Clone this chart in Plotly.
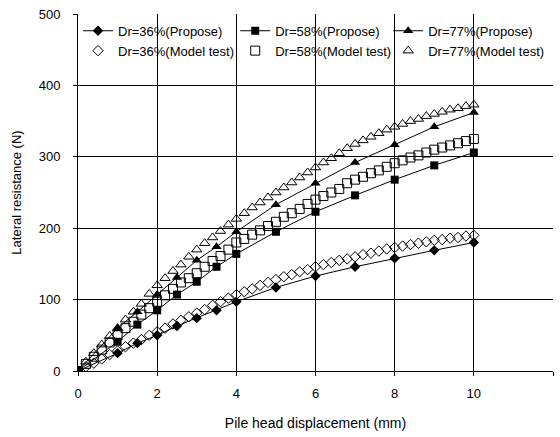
import plotly.graph_objects as go

# Proposed method (markers at these displacements)
x_prop = [0, 1, 1.5, 2, 2.5, 3, 3.5, 4, 5, 6, 7, 8, 9, 10]
dr36_prop = [0, 25, 39, 50, 63, 74, 85, 97, 117, 133, 146, 158, 169, 180]
dr58_prop = [0, 41, 65, 85, 107, 125, 146, 164, 195, 223, 246, 268, 288, 306]
dr77_prop = [0, 60, 83, 107, 131, 155, 174, 195, 233, 263, 292, 317, 342, 362]

# Model test (every 0.2 mm)
x_test = [0, 0.2, 0.4, 0.6, 0.8, 1.0, 1.2, 1.4, 1.6, 1.8, 2.0, 2.2, 2.4, 2.6, 2.8,
          3.0, 3.2, 3.4, 3.6, 3.8, 4.0, 4.2, 4.4, 4.6, 4.8, 5.0, 5.2, 5.4, 5.6, 5.8,
          6.0, 6.2, 6.4, 6.6, 6.8, 7.0, 7.2, 7.4, 7.6, 7.8, 8.0, 8.2, 8.4, 8.6, 8.8,
          9.0, 9.2, 9.4, 9.6, 9.8, 10.0]
dr36_test = [0, 6, 11, 17, 23, 28, 34, 39, 44, 50, 55, 60, 66, 71, 76,
             81, 86, 92, 97, 102, 107, 111, 115, 120, 124, 128, 132, 135, 139, 142,
             146, 149, 152, 155, 157, 160, 163, 165, 168, 171, 173, 175, 177, 179, 181,
             183, 184, 186, 187, 189, 190]
dr58_test = [0, 10, 20, 30, 40, 50, 60, 69, 79, 88, 97, 106, 115, 124, 130,
             137, 146, 154, 161, 170, 180, 185, 191, 197, 203, 209, 216, 221, 227, 234,
             240, 245, 250, 255, 263, 268, 272, 277, 281, 286, 291, 295, 299, 302, 306,
             310, 313, 316, 319, 322, 325]
dr77_test = [0, 13, 25, 37, 49, 60, 72, 83, 94, 108, 120, 130, 140, 149, 160,
             170, 179, 187, 196, 205, 213, 221, 229, 236, 243, 250, 257, 264, 271, 278,
             285, 292, 298, 305, 312, 318, 323, 328, 333, 338, 342, 346, 350, 353, 357,
             360, 363, 366, 368, 371, 373]

x_ticks = [0, 2, 4, 6, 8, 10, 12]
y_ticks = [0, 100, 200, 300, 400, 500]

FONT = "Liberation Sans, Arial, sans-serif"
fig = go.Figure()

series = [
    ("Dr=36%", dr36_prop, dr36_test, "diamond", 8, "diamond-open", 8, "legend"),
    ("Dr=58%", dr58_prop, dr58_test, "square", 8, "square-open", 9, "legend2"),
    ("Dr=77%", dr77_prop, dr77_test, "triangle-up", 9, "triangle-up-open", 9, "legend3"),
]

for lab, yp, yt, sp, szp, st, szt, lg in series:
    fig.add_trace(go.Scatter(x=x_prop, y=yp, name=lab + "(Propose)", mode="lines+markers",
                             legend=lg,
                             line=dict(color="black", width=1),
                             marker=dict(symbol=sp, size=szp, color="black")))
for lab, yp, yt, sp, szp, st, szt, lg in series:
    fig.add_trace(go.Scatter(x=x_test, y=yt, name=lab + "(Model test)", mode="markers",
                             legend=lg,
                             marker=dict(symbol=st, size=szt, color="black",
                                         line=dict(color="black", width=1))))

leg_common = dict(orientation="v", yanchor="top", xanchor="left", y=0.995,
                  bgcolor="rgba(0,0,0,0)", borderwidth=0, itemwidth=30,
                  tracegroupgap=0, traceorder="normal",
                  font=dict(size=13, family=FONT, color="black"))

fig.update_layout(
    width=560, height=437,
    margin=dict(l=78, r=7, t=14, b=66),
    paper_bgcolor="white", plot_bgcolor="white",
    font=dict(family=FONT, size=13, color="black"),
    legend=dict(x=0.0, **leg_common),
    legend2=dict(x=0.331, **leg_common),
    legend3=dict(x=0.653, **leg_common),
    showlegend=True,
)
fig.update_xaxes(range=[0, 12], tickvals=x_ticks, showgrid=True, gridcolor="black",
                 gridwidth=1, showline=True, linecolor="black", linewidth=1,
                 ticks="outside", ticklen=4, tickcolor="black", mirror=False,
                 ticklabelstandoff=6,
                 zeroline=False, title=dict(text="Pile head displacement (mm)",
                                            font=dict(size=14), standoff=18))
fig.update_yaxes(range=[0, 500], tickvals=y_ticks, showgrid=True, gridcolor="black",
                 gridwidth=1, showline=True, linecolor="black", linewidth=1,
                 ticks="outside", ticklen=4, tickcolor="black",
                 ticklabelstandoff=10,
                 zeroline=False, title=dict(text="Lateral resistance (N)",
                                            font=dict(size=13), standoff=14))

fig.write_html("out.html")
